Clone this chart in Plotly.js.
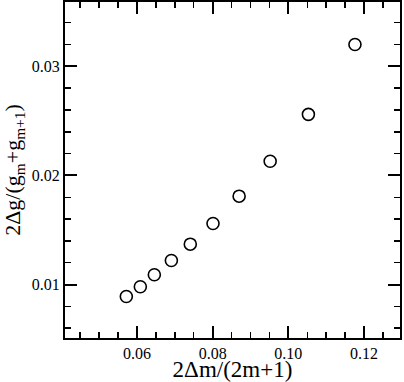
<!DOCTYPE html>
<html>
<head>
<meta charset="utf-8">
<script src="https://cdn.plot.ly/plotly-3.0.1.min.js"></script>
<style>
  html, body { margin: 0; padding: 0; background: #fff; }
  #plot { width: 404px; height: 382px; }
</style>
</head>
<body>
<div id="plot"></div>
<script>
// values
const xVals = [0.0572, 0.0609, 0.0646, 0.0691, 0.0741, 0.0801, 0.0870, 0.0952, 0.1053, 0.1176];
const yVals = [0.0089, 0.0098, 0.0109, 0.0122, 0.0137, 0.0156, 0.0181, 0.0213, 0.0256, 0.0320];

const serif = 'Liberation Serif';

const axisBase = {
  showline: true, linewidth: 2, linecolor: '#000',
  mirror: 'allticks', ticks: 'inside', ticklen: 12, tickwidth: 2, tickcolor: '#000',
  showgrid: false, zeroline: false,
  tickfont: { family: serif, size: 16, color: '#000' },
  tickformat: '.2f'
};

const trace = {
  x: xVals, y: yVals, type: 'scatter', mode: 'markers',
  marker: { symbol: 'circle-open', size: 12, color: '#000', line: { width: 1.6, color: '#000' } },
  hoverinfo: 'skip'
};

const layout = {
  width: 404, height: 382,
  margin: { l: 65, r: 4, t: 2, b: 44 },
  paper_bgcolor: '#fff', plot_bgcolor: '#fff',
  showlegend: false,
  font: { family: serif, color: '#000' },
  xaxis: Object.assign({}, axisBase, {
    range: [0.041, 0.1295], dtick: 0.02, tick0: 0,
    minor: { dtick: 0.005, ticks: 'inside', ticklen: 6, tickwidth: 1.5, tickcolor: '#000', showgrid: false },
    title: { text: '2Δm/(2m+1)', font: { family: serif, size: 23, color: '#000' }, standoff: 1 }
  }),
  yaxis: Object.assign({}, axisBase, {
    range: [0.0051, 0.0359], dtick: 0.01, tick0: 0,
    minor: { dtick: 0.002, ticks: 'inside', ticklen: 6, tickwidth: 1.5, tickcolor: '#000', showgrid: false },
    title: { text: '2Δg/(g<sub>m</sub>+g<sub>m+1</sub>)', font: { family: serif, size: 22, color: '#000' }, standoff: 6 }
  })
};

Plotly.newPlot('plot', [trace], layout, { staticPlot: true, displayModeBar: false });
</script>
</body>
</html>
